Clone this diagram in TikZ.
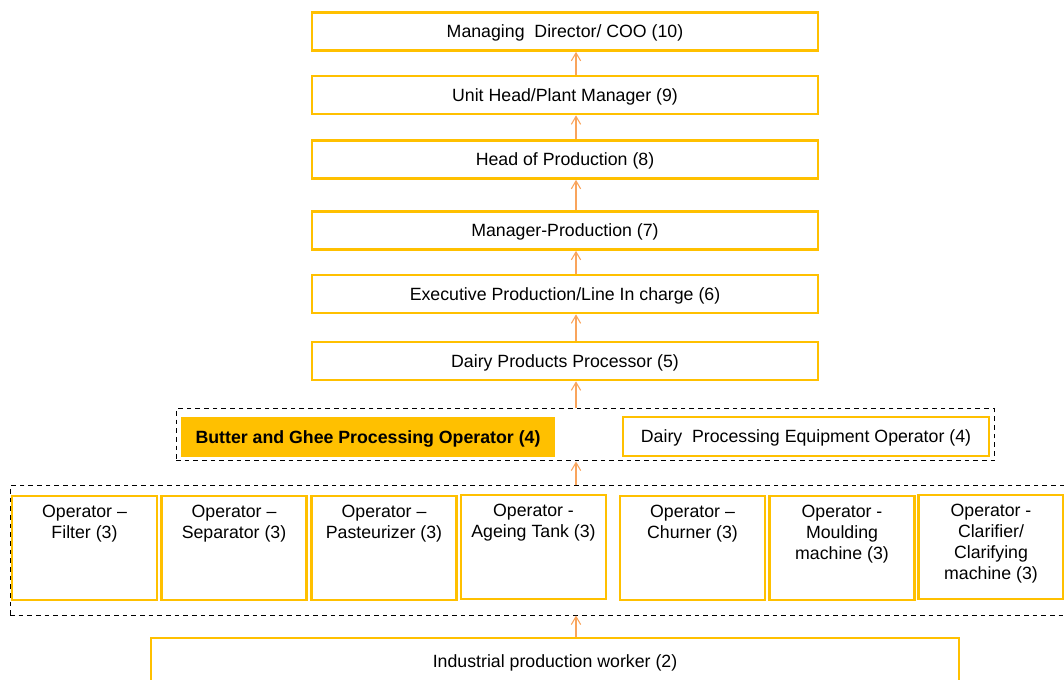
\documentclass[tikz,border=0pt]{standalone}
\usepackage{fontspec}
\setmainfont{Liberation Sans}
\usetikzlibrary{arrows.meta}

\definecolor{boxyellow}{HTML}{FFC000}
\definecolor{arrorange}{HTML}{F9A45C}
\newcommand{\chartfont}{\fontsize{13.3}{15.75}\selectfont}

\begin{document}
\begin{tikzpicture}[x=0.75pt,y=-0.75pt]
    \tikzstyle{role}=[draw=boxyellow, line width=2pt, minimum width=379.5pt, minimum height=28.5pt, inner sep=0pt, text height=9.7pt, text depth=0.6pt, font=\chartfont]
    \tikzstyle{group}=[draw, line width=0.75pt, dash pattern=on 3.5pt off 3pt, inner sep=0pt]
    \tikzstyle{opbox}=[draw=boxyellow, line width=2pt, minimum width=108.75pt, minimum height=78pt, inner sep=0pt]
    \tikzstyle{optext}=[anchor=north, align=center, inner sep=0pt, yshift=-7.3pt, font=\chartfont]
    \tikzstyle{up}=[arrorange, line width=0.8pt, -{Straight Barb[length=6pt,width=7pt]}]

    \clip (0,0) rectangle (1064,680);

    % dashed groups for levels 4 and 3
    \node[group, minimum width=613.5pt, minimum height=39pt] (g4) at (585,435) {};
    \node[group, minimum width=798.75pt, minimum height=96.75pt] (g3) at (542.5,550.5) {};

    % levels 10 to 5
    \node[role] (md) at (565,31.5) {Managing~~Director/ COO (10)};
    \node[role] (uh) at (565,95) {Unit Head/Plant Manager (9)};
    \node[role] (hp) at (565,159.5) {Head of Production (8)};
    \node[role] (mp) at (565,230.5) {Manager-Production (7)};
    \node[role] (ex) at (565,294) {Executive Production/Line In charge (6)};
    \node[role] (dp) at (565,361) {Dairy Products Processor (5)};

    % level 4
    \node[role, draw=none, fill=boxyellow, minimum width=280.5pt, minimum height=30pt, font=\chartfont\bfseries] (bg) at (368,437) {Butter and Ghee Processing Operator (4)};
    \node[role, minimum width=274.5pt, minimum height=29.25pt] (dpe) at (806,436.5) {Dairy~~Processing Equipment Operator (4)};

    % level 3
    \node[opbox] (o1) at (84.5,548) {};
    \node[optext] (t1) at (o1.north) {Operator --\\Filter (3)};
    \node[opbox] (o2) at (234,548) {};
    \node[optext] (t2) at (o2.north) {Operator --\\Separator (3)};
    \node[opbox] (o3) at (384,548) {};
    \node[optext] (t3) at (o3.north) {Operator --\\Pasteurizer (3)};
    \node[opbox] (o4) at (533.5,547) {};
    \node[optext] (t4) at (o4.north) {Operator -\\Ageing Tank~(3)};
    \node[opbox] (o5) at (692.5,548) {};
    \node[optext] (t5) at (o5.north) {Operator --\\Churner (3)};
    \node[opbox] (o6) at (842,548) {};
    \node[optext] (t6) at (o6.north) {Operator -\\Moulding\\machine (3)};
    \node[opbox] (o7) at (991,547) {};
    \node[optext] (t7) at (o7.north) {Operator -\\Clarifier/\\Clarifying\\machine (3)};

    % level 2
    \node[role, minimum width=606pt, minimum height=34.5pt] (ind) at (555,661) {Industrial production worker (2)};

    % reporting arrows
    \coordinate (ax) at (576,0);
    \draw[up] (uh.north -| ax) -- (md.south -| ax);
    \draw[up] (hp.north -| ax) -- (uh.south -| ax);
    \draw[up] (mp.north -| ax) -- (hp.south -| ax);
    \draw[up] (ex.north -| ax) -- (mp.south -| ax);
    \draw[up] (dp.north -| ax) -- (ex.south -| ax);
    \draw[up] (g4.north -| ax) -- (dp.south -| ax);
    \draw[up] (g3.north -| ax) -- (g4.south -| ax);
    \draw[up] (ind.north -| ax) -- (g3.south -| ax);
\end{tikzpicture}
\end{document}
